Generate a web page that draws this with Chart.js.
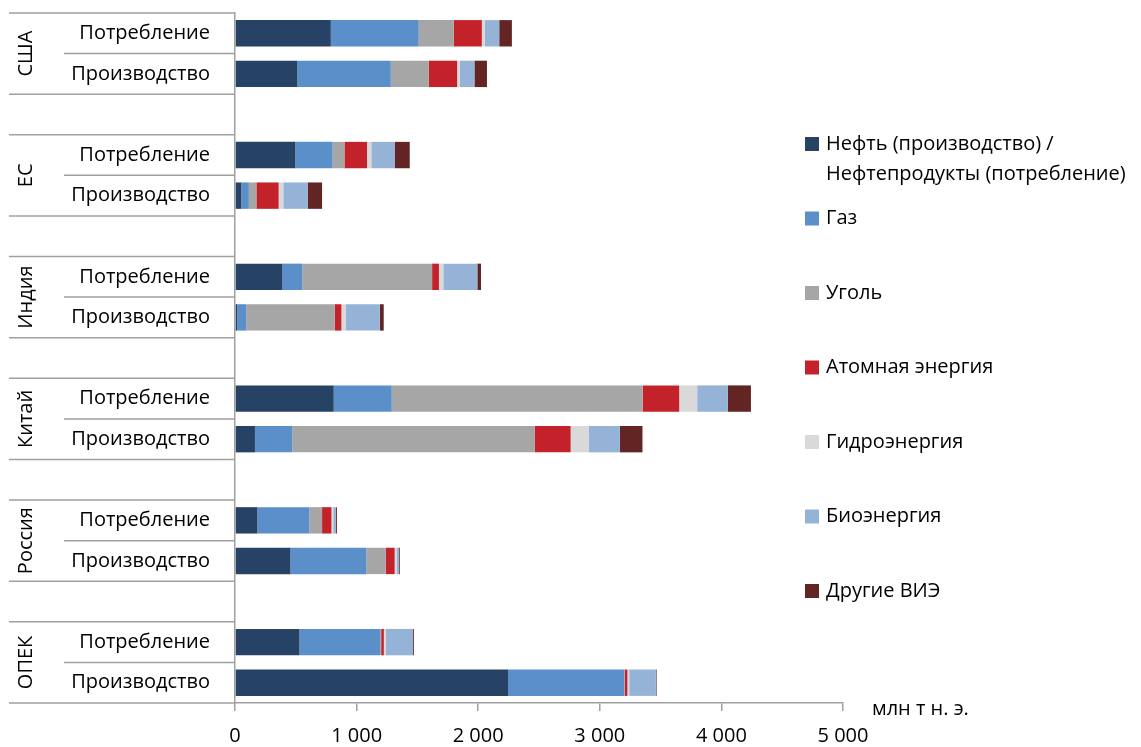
<!DOCTYPE html>
<html>
<head>
<meta charset="utf-8">
<script src="https://cdn.jsdelivr.net/npm/chart.js@4"></script>
<style>
  html, body { margin: 0; padding: 0; background: #fff; }
  #wrap { width: 1141px; height: 747px; }
</style>
</head>
<body>
<div id="wrap"><canvas id="energyChart"></canvas></div>
<script>
// DATA ====================================================
var groups = ["США", "ЕС", "Индия", "Китай", "Россия", "ОПЕК"];
var rowLabels = ["Потребление", "Производство"];

// order: США потр., США произв., ЕС потр., ЕС произв., ... ОПЕК произв.
var oil     = [788, 513, 496, 52, 390, 18, 812, 164, 184, 456, 530, 2245];
var gas     = [723, 768, 307, 62, 163, 74, 477, 308, 428, 624, 664, 956];
var coal    = [288, 313, 97, 62, 1068, 729, 2064, 1992, 104, 159, 8, 4];
var nuclear = [231, 233, 186, 183, 56, 54, 300, 296, 77, 74, 22, 22];
var hydro   = [25, 21, 35, 38, 36, 35, 148, 148, 15, 15, 15, 15];
var bio     = [118, 121, 195, 201, 280, 281, 252, 257, 22, 22, 225, 218];
var other   = [104, 103, 121, 118, 30, 32, 190, 186, 8, 7, 7, 7];

var xTicks = [0, 1000, 2000, 3000, 4000, 5000];
var unitLabel = "млн т н. э.";

var seriesNames = [
	["Нефть (производство) /", "Нефтепродукты (потребление)"],
	["Газ"], ["Уголь"], ["Атомная энергия"], ["Гидроэнергия"], ["Биоэнергия"], ["Другие ВИЭ"]
];
var seriesData = [oil, gas, coal, nuclear, hydro, bio, other];
var seriesColors = ["#264264", "#5b8fc9", "#a6a6a6", "#c4222a", "#d9d9d9", "#95b3d7", "#632523"];

var FONT = "'Open Sans', 'Noto Sans', sans-serif";
var LINE = "#a0a0a0";

// build category slots: 2 rows per group + empty slot between groups
var slotLabels = [];
groups.forEach(function (g, i) {
	slotLabels.push(rowLabels[0], rowLabels[1]);
	if (i < groups.length - 1) slotLabels.push("");
});

function toSlots(arr) {
	var out = [];
	groups.forEach(function (g, i) {
		out.push(arr[i * 2], arr[i * 2 + 1]);
		if (i < groups.length - 1) out.push(null);
	});
	return out;
}

var datasets = seriesData.map(function (arr, k) {
	return {
		label: seriesNames[k].join(" "),
		data: toSlots(arr),
		backgroundColor: seriesColors[k],
		borderWidth: 0,
		barPercentage: 0.65,
		categoryPercentage: 1
	};
});

// left-side group labels, separators, legend and unit text
var decorPlugin = {
	id: "decor",
	afterDraw: function (chart) {
		var ctx = chart.ctx;
		var y = chart.scales.y;
		var area = chart.chartArea;
		var half = (y.getPixelForValue(1) - y.getPixelForValue(0)) / 2;

		ctx.save();
		ctx.strokeStyle = LINE;
		ctx.lineWidth = 1.5;
		groups.forEach(function (g, i) {
			var c = y.getPixelForValue(i * 3);
			var p = y.getPixelForValue(i * 3 + 1);
			var top = c - half, mid = c + half, bot = p + half;
			ctx.beginPath();
			ctx.moveTo(9, top); ctx.lineTo(area.left, top);
			ctx.moveTo(9, bot); ctx.lineTo(area.left, bot);
			ctx.moveTo(64, mid); ctx.lineTo(area.left, mid);
			ctx.stroke();

			ctx.save();
			ctx.translate(32, (top + bot) / 2);
			ctx.rotate(-Math.PI / 2);
			ctx.fillStyle = "#000";
			ctx.font = "20px " + FONT;
			ctx.textAlign = "center";
			ctx.textBaseline = "alphabetic";
			ctx.fillText(g, 0, 0);
			ctx.restore();
		});

		// legend
		ctx.font = "20px " + FONT;
		ctx.textAlign = "left";
		ctx.textBaseline = "middle";
		chart.data.datasets.forEach(function (ds, k) {
			var cy = 144 + k * 74.5;
			ctx.fillStyle = ds.backgroundColor;
			ctx.fillRect(805, cy - 7, 14, 14);
			ctx.fillStyle = "#000";
			seriesNames[k].forEach(function (line, j) {
				ctx.fillText(line, 826, cy + j * 30);
			});
		});

		// unit
		ctx.fillText(unitLabel, 872, area.bottom + 6);
		ctx.restore();
	}
};

new Chart(document.getElementById("energyChart"), {
	type: "bar",
	data: { labels: slotLabels, datasets: datasets },
	options: {
		indexAxis: "y",
		responsive: true,
		maintainAspectRatio: false,
		animation: false,
		layout: { padding: { top: 13, right: 298, left: 0, bottom: 0 } },
		plugins: {
			legend: { display: false },
			tooltip: { enabled: false }
		},
		scales: {
			x: {
				stacked: true,
				min: 0,
				max: 5000,
				afterBuildTicks: function (scale) {
					scale.ticks = xTicks.map(function (v) { return { value: v }; });
				},
				afterFit: function (scale) { scale.height = 44; },
				grid: { display: true, drawOnChartArea: false, drawTicks: true, tickLength: 8, color: LINE, lineWidth: 1.5 },
				border: { display: true, color: LINE, width: 1.5 },
				ticks: {
					color: "#000",
					font: { size: 20, family: FONT },
					padding: 13,
					maxRotation: 0,
					callback: function (v) {
						return String(v).replace(/\B(?=(\d{3})+(?!\d))/g, " ");
					}
				}
			},
			y: {
				stacked: true,
				afterFit: function (scale) {
					scale.width = 235;
					scale.paddingTop = 0;
					scale.paddingBottom = 0;
				},
				grid: { display: false, drawTicks: false },
				border: { display: true, color: LINE, width: 1.5 },
				ticks: {
					color: "#000",
					font: { size: 20, family: FONT },
					padding: 25,
					autoSkip: false
				}
			}
		}
	},
	plugins: [decorPlugin]
});
</script>
</body>
</html>
